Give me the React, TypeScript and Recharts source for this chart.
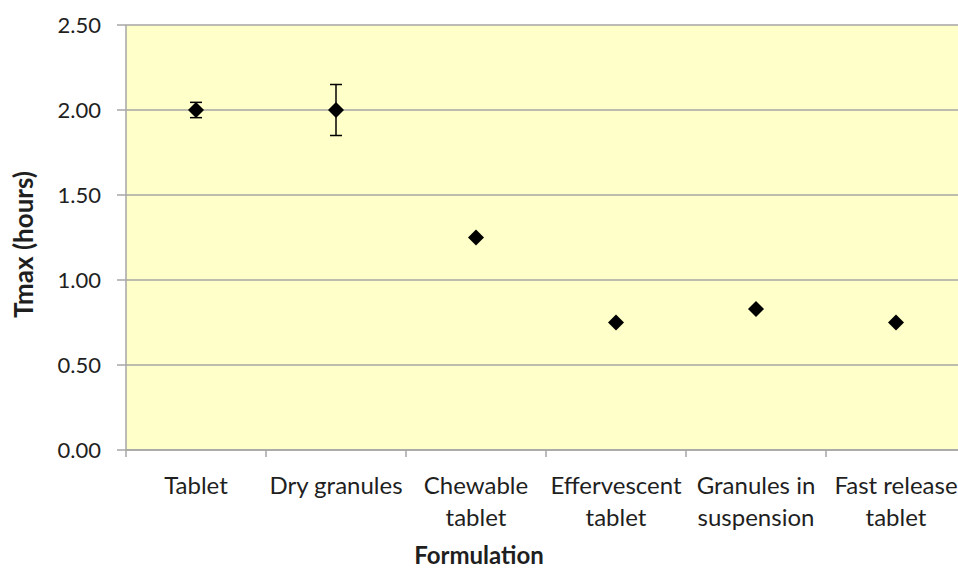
import { ComposedChart, Scatter, ErrorBar, XAxis, YAxis, CartesianGrid, Label } from "recharts";

const categories = [
  "Tablet",
  "Dry granules",
  "Chewable\ntablet",
  "Effervescent\ntablet",
  "Granules in\nsuspension",
  "Fast release\ntablet",
];
const tmax = [2.0, 2.0, 1.25, 0.75, 0.83, 0.75];
const tmaxErr = [0.045, 0.15, 0, 0, 0, 0];
const yTicks = [0, 0.5, 1, 1.5, 2, 2.5];

const data = categories.map((name, i) => ({ name, tmax: tmax[i], err: tmaxErr[i] }));

const VIEW_W = 958;
const VIEW_H = 568;
const Y_AXIS_W = 126;
const PLOT_W = 840;
const FONT = "Lato, 'Open Sans', sans-serif";
const TEXT = "#1f1f1f";
const LINE = "#a6a6a6";

function XTick({ x, y, payload, index }: { x: number; y: number; payload: { value: string }; index: number }) {
  const lines = String(payload.value).split("\n");
  const half = PLOT_W / categories.length / 2;
  return (
    <g>
      <line x1={x - half} x2={x - half} y1={y} y2={y + 7} stroke={LINE} strokeWidth={1.5} />
      {index === categories.length - 1 && (
        <line x1={x + half} x2={x + half} y1={y} y2={y + 7} stroke={LINE} strokeWidth={1.5} />
      )}
      <text x={x} y={y} textAnchor="middle" fill={TEXT} fontSize={24} fontFamily={FONT}>
        {lines.map((l, i) => (
          <tspan key={i} x={x} dy={i === 0 ? 44 : 32}>{l}</tspan>
        ))}
      </text>
    </g>
  );
}

function Diamond({ cx, cy }: { cx?: number; cy?: number }) {
  if (cx == null || cy == null) return null;
  const r = 8;
  return <polygon points={`${cx},${cy - r} ${cx + r},${cy} ${cx},${cy + r} ${cx - r},${cy}`} fill="#000" />;
}

export default function App() {
  return (
    <div style={{ position: "absolute", left: 0, top: 0, width: VIEW_W, height: VIEW_H, overflow: "hidden", background: "#fff" }}>
      <ComposedChart
        width={Y_AXIS_W + PLOT_W}
        height={VIEW_H}
        data={data}
        margin={{ top: 25, right: 0, bottom: 0, left: 0 }}
      >
        <CartesianGrid vertical={false} fill="#ffffc9" fillOpacity={1} stroke={LINE} strokeWidth={1.5} />
        <XAxis
          dataKey="name"
          type="category"
          scale="band"
          height={118}
          interval={0}
          tickSize={0}
          tickMargin={0}
          tickLine={false}
          axisLine={{ stroke: LINE, strokeWidth: 1.5 }}
          tick={(p: any) => <XTick {...p} />}
        >
          <Label
            content={() => (
              <text x={VIEW_W / 2} y={564} textAnchor="middle" fill={TEXT} fontSize={24} fontWeight="bold" fontFamily={FONT}>
                Formulation
              </text>
            )}
          />
        </XAxis>
        <YAxis
          width={Y_AXIS_W}
          domain={[0, 2.5]}
          ticks={yTicks}
          tickFormatter={(v: number) => v.toFixed(2)}
          tickSize={9}
          tickMargin={16}
          tickLine={{ stroke: LINE, strokeWidth: 1.5 }}
          axisLine={{ stroke: LINE, strokeWidth: 1.5 }}
          tick={{ fill: TEXT, fontSize: 22, fontFamily: FONT }}
        >
          <Label
            content={(props: any) => {
              const vb = props.viewBox || { y: 25, height: 425 };
              const cy = vb.y + vb.height / 2 + 7;
              return (
                <text
                  x={23}
                  y={cy}
                  transform={`rotate(-90 23 ${cy})`}
                  textAnchor="middle"
                  dominantBaseline="central"
                  fill={TEXT}
                  fontSize={26}
                  fontWeight="bold"
                  fontFamily={FONT}
                >
                  Tmax (hours)
                </text>
              );
            }}
          />
        </YAxis>
        <Scatter dataKey="tmax" shape={(p: any) => <Diamond cx={p.cx} cy={p.cy} />} isAnimationActive={false}>
          <ErrorBar dataKey="err" direction="y" width={6} stroke="#000" strokeWidth={1.5} isAnimationActive={false} />
        </Scatter>
      </ComposedChart>
    </div>
  );
}
